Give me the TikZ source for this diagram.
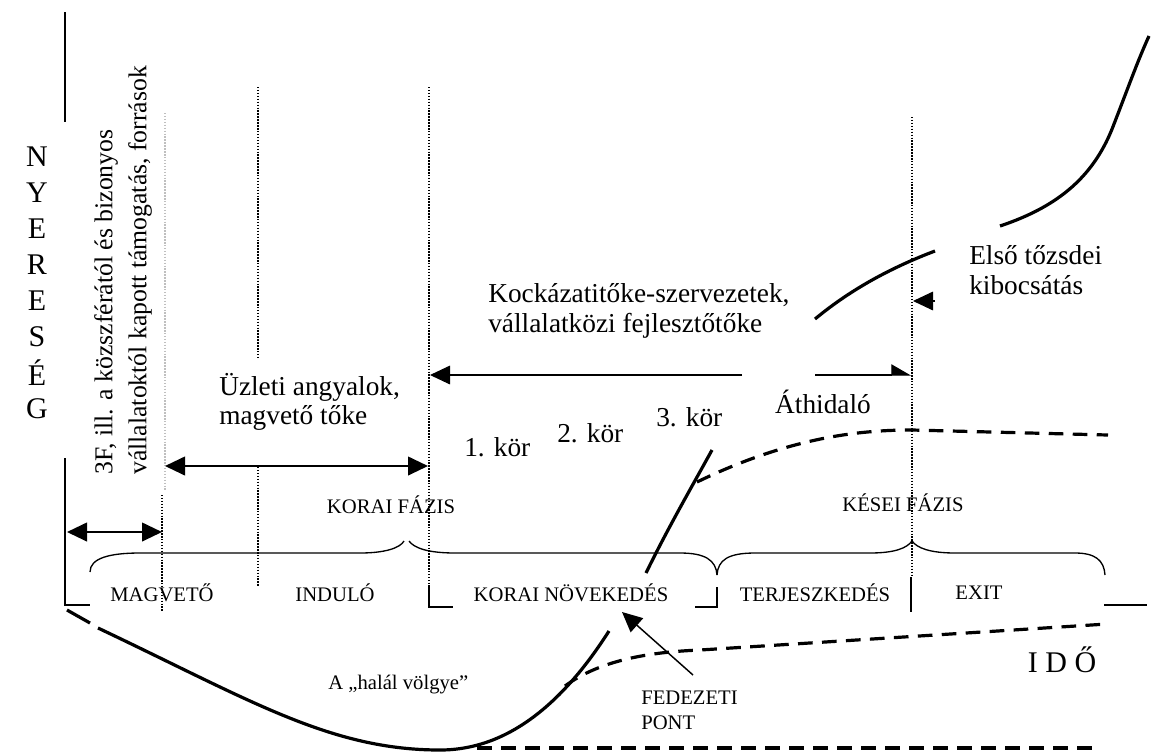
\documentclass[tikz,border=0pt]{standalone}
\usepackage{fontspec}
\setmainfont{Liberation Serif}
\usepackage{tikz}
\usetikzlibrary{arrows.meta}

\begin{document}
\begin{tikzpicture}[x=0.75pt,y=0.75pt,yscale=-1,xscale=1,
    >={Triangle[length=15pt,width=14pt]},
    bigtxt/.style={font=\fontsize{20.5}{22}\selectfont, inner sep=0.75pt},
    rottxt/.style={font=\fontsize{19.3}{22}\selectfont, inner sep=0.75pt, rotate=90},
    smalltxt/.style={font=\fontsize{15.5}{19}\selectfont, inner sep=0.75pt},
    hugetxt/.style={font=\fontsize{22.5}{26}\selectfont, inner sep=0.75pt},
    axisline/.style={line width=1.2pt},
    guide/.style={line width=0.8pt, dash pattern=on 1.1pt off 1.1pt},
    curve/.style={line width=2.4pt},
    dashcurve/.style={line width=2.4pt, dash pattern=on 11pt off 7pt},
    brace/.style={line width=1pt}]
        \useasboundingbox (0,0) rectangle (1153,751);

        %Straight Lines
        \draw [axisline] (65,12) -- (65,122) ;
        %Straight Lines
        \draw [axisline] (65,458) -- (65,605) -- (90,605) ;
        \draw [axisline] (429,585) -- (429,607) -- (453,607) ;
        \draw [axisline] (695,607) -- (717,607) -- (717,587) ;
        \draw [line width=1.8pt] (911,577) -- (911,612) ;
        \draw [axisline] (1104,605) -- (1147,605) ;

        %Dotted Lines
        \draw [guide, black!25] (165,113) -- (165,490) ;
        \draw [guide, line width=1.6pt] (162,495) -- (162,612) ;
        \draw [guide] (258,87) -- (258,357) ;
        \draw [guide] (258,467) -- (258,587) ;
        \draw [guide] (429,87) -- (429,585) ;
        \draw [guide] (912,117) -- (912,577) ;

        %Shape: Brace
        \draw [brace] (90,572) .. controls (90,558) and (110,553) .. (140,553) -- (360,553) .. controls (385,553) and (400,548) .. (404,541) ;
        \draw [brace] (409,541) .. controls (414,548) and (428,553) .. (455,553) -- (680,553) .. controls (705,553) and (716,560) .. (717,575) ;
        %Shape: Brace
        \draw [brace] (717,575) .. controls (718,560) and (728,553) .. (755,553) -- (870,553) .. controls (895,553) and (907,548) .. (912,541) .. controls (917,548) and (930,553) .. (955,553) -- (1075,553) .. controls (1095,553) and (1104,560) .. (1105,575) ;

        % Text Node
        \foreach \c [count=\i] in {N,Y,E,R,E,S,É,G}
            \node [hugetxt] (ny\i) at (37,{121+36*\i}) {\c};
        % Text Node
        \node [rottxt, anchor=west] (ffa) at (106,476) {3F, ill. a közszférától és bizonyos};
        \node [rottxt, anchor=west] (ffb) at (140,476) {vállalatoktól kapott támogatás, források};
        % Text Node
        \node [bigtxt, align=left, anchor=west] (angyal) at (218,402) {Üzleti angyalok,\\magvető tőke};
        % Text Node
        \node [bigtxt, align=left, anchor=west] (kockazat) at (487,311) {Kockázatitőke-szervezetek,\\vállalatközi fejlesztőtőke};
        % Text Node
        \node [bigtxt, align=left, anchor=west] (ipo) at (968,270) {Első tőzsdei\\kibocsátás};
        % Text Node
        \node [bigtxt] (athid) at (823,402) {Áthidaló};
        \node [bigtxt, anchor=west] (kor1) at (463,447) {1. kör};
        \node [bigtxt, anchor=west] (kor2) at (556,433) {2. kör};
        \node [bigtxt, anchor=west] (kor3) at (655,417) {3. kör};
        % Text Node
        \node [smalltxt] (korai) at (391,505) {KORAI FÁZIS};
        \node [smalltxt] (kesei) at (903,503) {KÉSEI FÁZIS};
        % Text Node
        \node [smalltxt] (magveto) at (162,593) {MAGVETŐ};
        \node [smalltxt] (indulo) at (335,593) {INDULÓ};
        \node [smalltxt] (novek) at (571,593) {KORAI NÖVEKEDÉS};
        \node [smalltxt] (terj) at (815,593) {TERJESZKEDÉS};
        \node [smalltxt] (exit) at (979,593) {EXIT};
        % Text Node
        \node [smalltxt, anchor=west] (volgy) at (327,685) {A „halál völgye”};
        \node [smalltxt, align=left, anchor=west] (fedez) at (640,710) {FEDEZETI\\PONT};
        % Text Node
        \node [hugetxt] (ido) at (1062,660) {I D Ő};

        %Arrows
        \coordinate (ffl) at (67,532) ;
        \coordinate (ffr) at (162,532) ;
        \draw [line width=1.5pt, <->] (ffl) -- (ffr) ;
        \coordinate (anl) at (165,466) ;
        \coordinate (anr) at (428,466) ;
        \draw [line width=1.5pt, <->] (anl) -- (anr) ;
        \coordinate (kol) at (430,375) ;
        \coordinate (kom) at (742,375) ;
        \coordinate (hid) at (815,375) ;
        \coordinate (hir) at (911,375) ;
        \draw [line width=0.8pt, ->] (kom) -- (kol) ;
        \draw [line width=0.8pt, -{Stealth[inset=0pt,length=14pt,width=16pt,harpoon]}] (hid) -- (hir) ;
        \coordinate (ipt) at (935,301) ;
        \coordinate (iph) at (913,301) ;
        \draw [line width=0.8pt, ->] (ipt) -- (iph) ;
        \coordinate (bep) at (693,675) ;
        \coordinate (bet) at (622,612) ;
        \draw [line width=1.1pt, ->] (bep) -- (bet) ;

        %Curve Lines
        \draw [curve] (67,610) -- (90,623) ;
        \draw [curve] (98,628) .. controls (250,700) and (330,750) .. (440,750) .. controls (510,750) and (565,700) .. (609,631) ;
        \draw [curve] (646,573) .. controls (668,528) and (690,490) .. (712,450) ;
        %Curve Lines
        \draw [dashcurve] (697,482) .. controls (790,437) and (860,430) .. (912,430) -- (1108,435) ;
        \draw [dashcurve] (565,686) .. controls (600,660) and (650,652) .. (700,650) -- (1107,624) ;
        \draw [dashcurve] (477,748) -- (1100,748) ;
        %Curve Lines
        \draw [curve] (815,319) .. controls (850,290) and (890,268) .. (935,251) ;
        \draw [curve] (1000,226) .. controls (1060,206) and (1095,175) .. (1114,124) .. controls (1128,88) and (1138,60) .. (1149,36) ;
\end{tikzpicture}
\end{document}
